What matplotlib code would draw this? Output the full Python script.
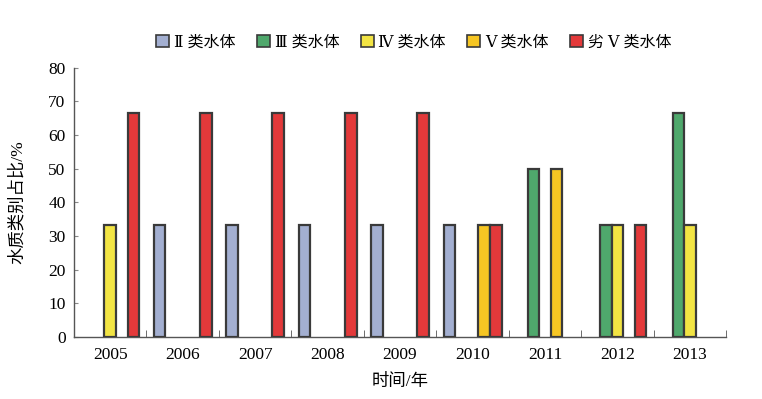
import numpy as np
import matplotlib.pyplot as plt
from matplotlib.patches import Patch

plt.rcParams['font.family'] = ['Liberation Serif', 'DejaVu Serif', 'Noto Sans CJK SC']

years = ['2005', '2006', '2007', '2008', '2009', '2010', '2011', '2012', '2013']
classes = ['Ⅱ 类水体', 'Ⅲ 类水体', 'Ⅳ 类水体', 'Ⅴ 类水体', '劣 Ⅴ 类水体']
colors = ['#a3afd1', '#4fa86c', '#f2e443', '#f6c623', '#e3393a']

class_2 = [0, 33.3, 33.3, 33.3, 33.3, 33.3, 0, 0, 0]
class_3 = [0, 0, 0, 0, 0, 0, 50, 33.3, 66.7]
class_4 = [33.3, 0, 0, 0, 0, 0, 0, 33.3, 33.3]
class_5 = [0, 0, 0, 0, 0, 33.3, 50, 0, 0]
class_worse = [66.7, 66.7, 66.7, 66.7, 66.7, 33.3, 0, 33.3, 0]
series = [class_2, class_3, class_4, class_5, class_worse]

fig = plt.figure(figsize=(7.62, 3.99), dpi=100)
ax = fig.add_axes([0.097, 0.155, 0.856, 0.675])

x = np.arange(len(years))
w = 0.16
for i, vals in enumerate(series):
    vals = np.array(vals, dtype=float)
    m = vals > 0
    ax.bar(x[m] + (i - 2) * w, vals[m], width=w, color=colors[i],
           edgecolor='#3a3a3a', linewidth=1.6, zorder=3)

ax.set_xlim(-0.5, len(years) - 0.5)
ax.set_ylim(0, 80)
ax.set_yticks(np.arange(0, 81, 10))
ax.set_xticks(x)
ax.set_xticklabels(years)
ax.set_xticks(np.arange(0.5, len(years), 1), minor=True)
ax.tick_params(axis='x', which='major', length=0, pad=7, labelsize=12.5)
ax.tick_params(axis='x', which='minor', direction='in', length=5, color='#555555')
ax.tick_params(axis='y', direction='in', length=3, pad=6, labelsize=12.5, color='#888888')

for s in ['top', 'right']:
    ax.spines[s].set_visible(False)
for s in ['left', 'bottom']:
    ax.spines[s].set_color('#555555')
    ax.spines[s].set_linewidth(1.0)

ax.set_ylabel('水质类别占比/%', fontsize=12.5, labelpad=16)
ax.set_xlabel('时间/年', fontsize=12.5, labelpad=8)

handles = [Patch(facecolor=c, edgecolor='#3a3a3a', linewidth=1.2) for c in colors]
fig.legend(handles, classes, loc='center', bbox_to_anchor=(0.543, 0.893), ncol=5,
           frameon=False, fontsize=11.5, handlelength=0.8, handleheight=0.8,
           handletextpad=0.3, columnspacing=1.35)

fig.savefig('out.png', dpi=100)
